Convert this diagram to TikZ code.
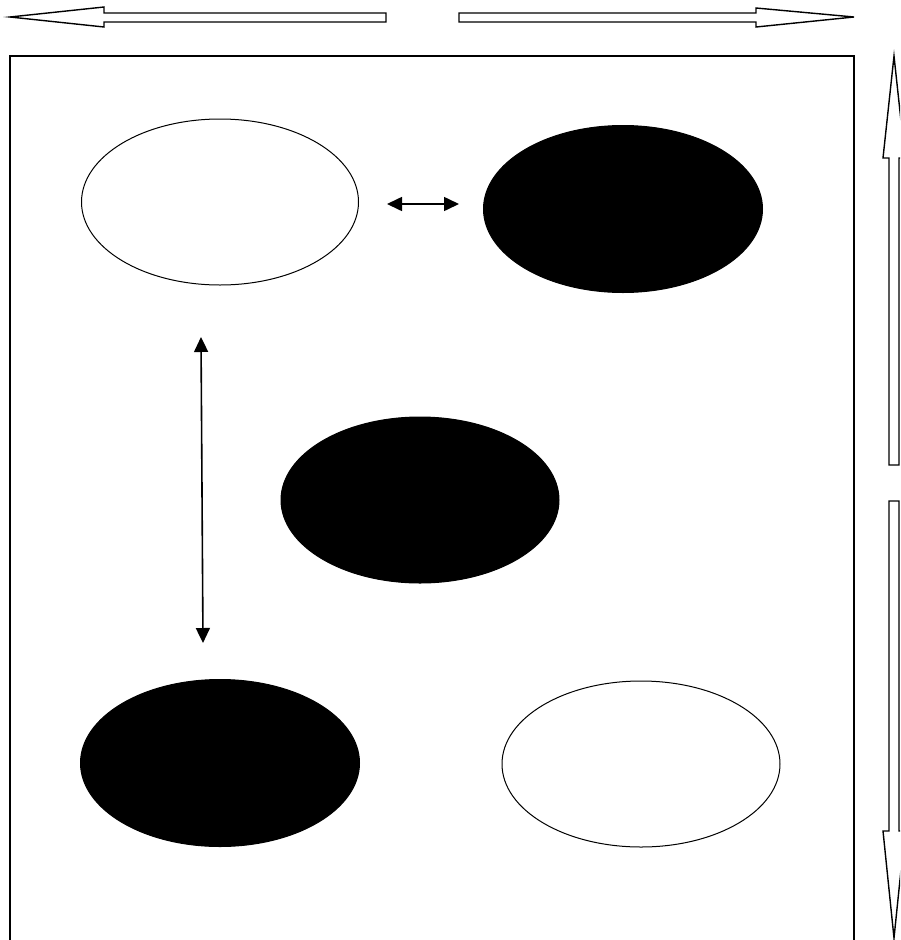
\documentclass[tikz,border=0pt]{standalone}
\usetikzlibrary{shapes.geometric,arrows.meta}
\begin{document}
\begin{tikzpicture}[x=1pt,y=-1pt,
  oval/.style={ellipse,draw=black,line width=1pt,inner sep=0pt},
  whiteoval/.style={oval,fill=white},
  blackoval/.style={oval,fill=black},
  blockarrow/.style={draw=black,line width=1.4pt,fill=white,line join=miter},
  dbl/.style={line width=1.6pt,{Triangle[length=15pt,width=14pt]}-{Triangle[length=15pt,width=14pt]}}]
\useasboundingbox (0,0) rectangle (900,940);
\clip (0,0) rectangle (900,940);
% frame
\draw[line width=1.4pt] (10,960) -- (10,56) -- (854,56) -- (854,960);
% top block arrows
\draw[blockarrow] (386,13) -- (104,13) -- (104,7) -- (10,17) -- (104,27) -- (104,22) -- (386,22) -- cycle;
\draw[blockarrow] (459,13) -- (756,13) -- (756,8) -- (854,17) -- (756,27) -- (756,22) -- (459,22) -- cycle;
% right block arrows
\draw[blockarrow] (889,465) -- (889,158) -- (883,158) -- (894,56) -- (905,158) -- (899,158) -- (899,465) -- cycle;
\draw[blockarrow] (889,501) -- (889,831) -- (883,831) -- (894,938) -- (905,831) -- (899,831) -- (899,501) -- cycle;
% ellipses
\node[whiteoval,minimum width=277pt,minimum height=166pt] (e1) at (220,202) {};
\node[blackoval,minimum width=279pt,minimum height=167pt] (e2) at (623,209) {};
\node[blackoval,minimum width=278pt,minimum height=166pt] (e3) at (420,500) {};
\node[blackoval,minimum width=279pt,minimum height=167pt] (e4) at (220,763) {};
\node[whiteoval,minimum width=278pt,minimum height=166pt] (e5) at (641,764) {};
% small double arrows
\coordinate (h1) at (387,204);
\coordinate (h2) at (459,204);
\draw[dbl] (h1) -- (h2);
\coordinate (v1) at (201,337);
\coordinate (v2) at (203,643);
\draw[dbl] (v1) -- (v2);
\end{tikzpicture}
\end{document}
